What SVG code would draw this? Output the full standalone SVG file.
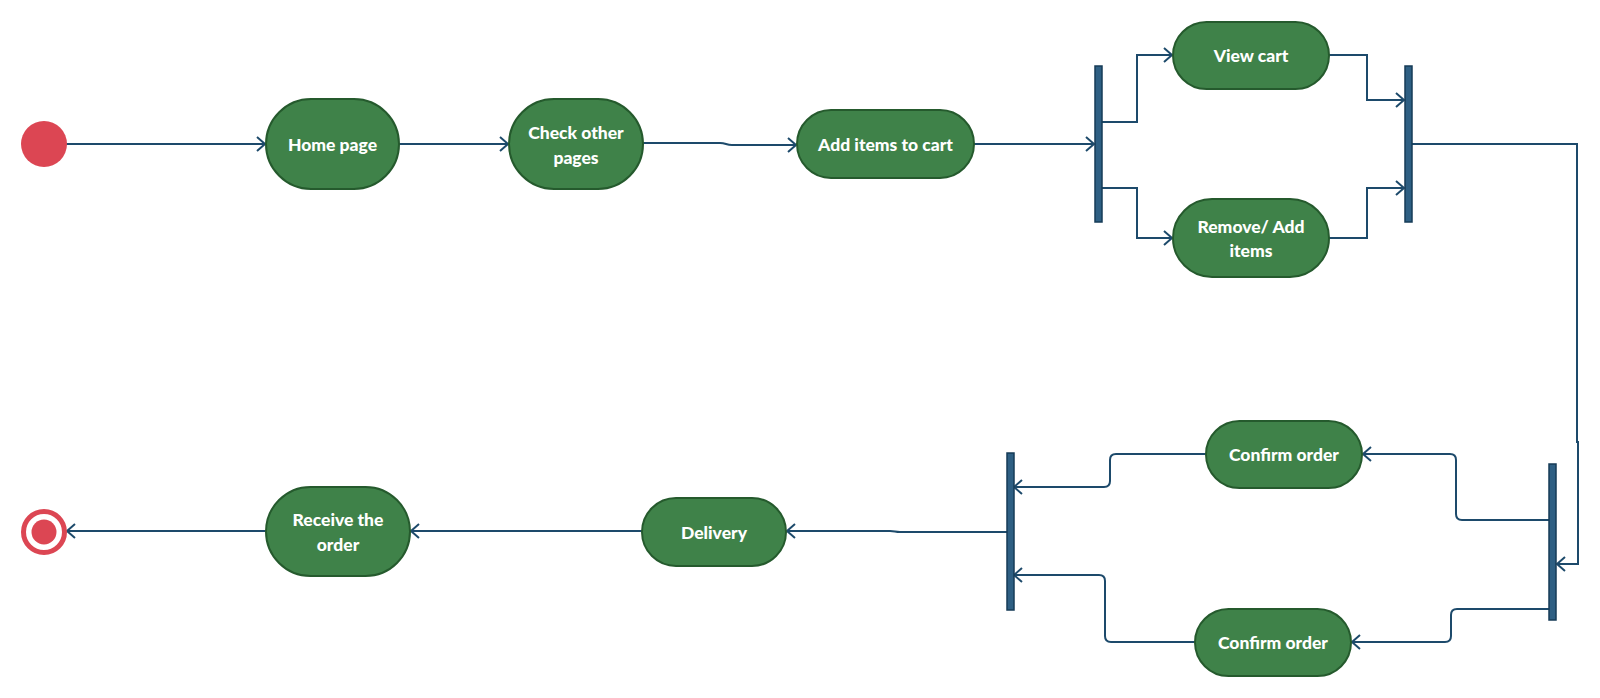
<svg xmlns="http://www.w3.org/2000/svg" width="1600" height="698" viewBox="0 0 1600 698">
<defs>
<style>
.act{fill:#3f8249;stroke:#255a2d;stroke-width:2}
.lbl{fill:#ffffff;font-family:Lato,"Liberation Sans",sans-serif;font-weight:900;font-size:17.5px;text-anchor:middle;dominant-baseline:central}
.bar{fill:#2e5f83;stroke:#163b57;stroke-width:1.5}
.con{fill:none;stroke:#1d4a6b;stroke-width:2;marker-end:url(#arr)}
</style>
<marker id="arr" markerWidth="12" markerHeight="16" refX="9" refY="8" orient="auto" markerUnits="userSpaceOnUse">
<path d="M1,1 L9,8 L1,15" fill="none" stroke="#1d4a6b" stroke-width="2"/>
</marker>
</defs>
<rect width="1600" height="698" fill="#ffffff"/>
<g id="connectors">
<path class="con" d="M66,144 L265,144"/>
<path class="con" d="M399,144 L508,144"/>
<path class="con" d="M643,143 L720,143 C726,143 726,145 732,145 L796,145"/>
<path class="con" d="M974,144 L1094,144"/>
<path class="con" d="M1102,122 L1137,122 L1137,55 L1172,55"/>
<path class="con" d="M1102,188 L1137,188 L1137,238 L1172,238"/>
<path class="con" d="M1329,55 L1367,55 L1367,100 L1404,100"/>
<path class="con" d="M1329,238 L1367,238 L1367,188 L1404,188"/>
<path class="con" d="M1412,144 L1577,144 L1577,442 L1578,442 L1578,564 L1557,564"/>
<path class="con" d="M1549,520 L1462,520 Q1456,520 1456,514 L1456,460 Q1456,454 1450,454 L1363,454"/>
<path class="con" d="M1549,609 L1457,609 Q1451,609 1451,615 L1451,636 Q1451,642 1445,642 L1352,642"/>
<path class="con" d="M1206,454 L1116,454 Q1110,454 1110,460 L1110,481 Q1110,487 1104,487 L1014,487"/>
<path class="con" d="M1195,642 L1111,642 Q1105,642 1105,636 L1105,581 Q1105,575 1099,575 L1014,575"/>
<path class="con" d="M1007,532 L900,532 C895,532 895,531 890,531 L787,531"/>
<path class="con" d="M642,531 L411,531"/>
<path class="con" d="M266,531 L67,531"/>
</g>
<g id="start"><circle cx="44" cy="144" r="23" fill="#dc4653"/></g>
<g id="home"><rect class="act" x="266" y="99" width="133" height="90" rx="45"/><text class="lbl" x="332.5" y="144">Home page</text></g>
<g id="check"><rect class="act" x="509" y="99" width="134" height="90" rx="45"/><text class="lbl" x="576" y="132">Check other</text><text class="lbl" x="576" y="157">pages</text></g>
<g id="additems"><rect class="act" x="797" y="110" width="177" height="68" rx="34"/><text class="lbl" x="885.5" y="144">Add items to cart</text></g>
<g id="fork1"><rect class="bar" x="1095" y="66" width="7" height="156"/></g>
<g id="viewcart"><rect class="act" x="1173" y="22" width="156" height="67" rx="33.5"/><text class="lbl" x="1251" y="55">View cart</text></g>
<g id="removeadd"><rect class="act" x="1173" y="199" width="156" height="78" rx="39"/><text class="lbl" x="1251" y="226">Remove/ Add</text><text class="lbl" x="1251" y="250">items</text></g>
<g id="join1"><rect class="bar" x="1405" y="66" width="7" height="156"/></g>
<g id="fork2"><rect class="bar" x="1549" y="464" width="7" height="156"/></g>
<g id="confirm1"><rect class="act" x="1206" y="421" width="156" height="67" rx="33.5"/><text class="lbl" x="1284" y="454">Confirm order</text></g>
<g id="confirm2"><rect class="act" x="1195" y="609" width="156" height="67" rx="33.5"/><text class="lbl" x="1273" y="642">Confirm order</text></g>
<g id="join2"><rect class="bar" x="1007" y="453" width="7" height="157"/></g>
<g id="delivery"><rect class="act" x="642" y="498" width="144" height="68" rx="34"/><text class="lbl" x="714" y="532">Delivery</text></g>
<g id="receive"><rect class="act" x="266" y="487" width="144" height="89" rx="44.5"/><text class="lbl" x="338" y="519">Receive the</text><text class="lbl" x="338" y="544">order</text></g>
<g id="end"><circle cx="44" cy="532" r="20.5" fill="#ffffff" stroke="#dc4653" stroke-width="5"/><circle cx="44" cy="532" r="12.5" fill="#dc4653"/></g>
</svg>
